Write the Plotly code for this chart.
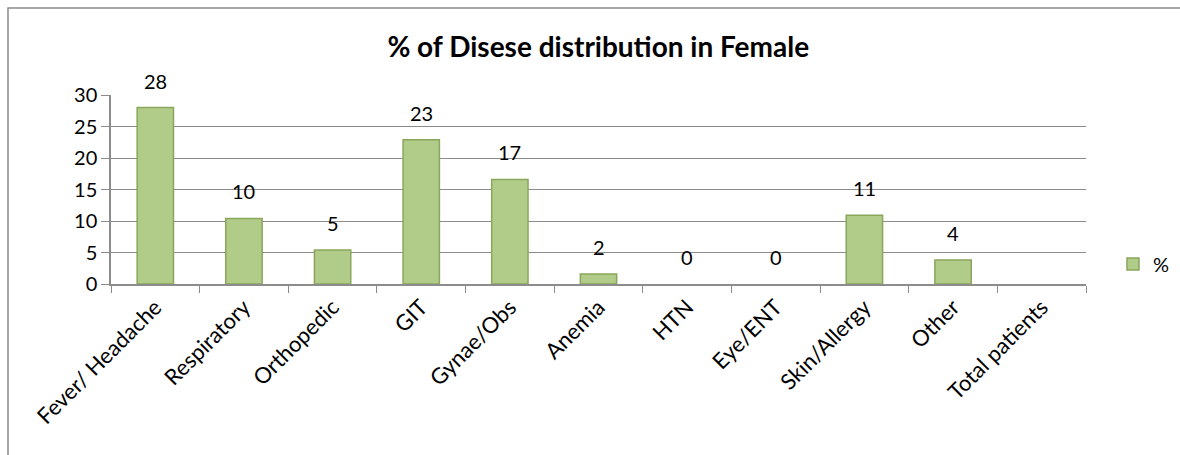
import plotly.graph_objects as go

categories = ["Fever/ Headache", "Respiratory", "Orthopedic", "GIT", "Gynae/Obs",
              "Anemia", "HTN", "Eye/ENT", "Skin/Allergy", "Other", "Total patients"]
values = [28.0, 10.4, 5.4, 22.9, 16.6, 1.6, 0, 0, 10.9, 3.8, None]
series_name = "%"
title_text = "% of Disese distribution in Female"
y_ticks = [0, 5, 10, 15, 20, 25, 30]

FONT = "Lato, Carlito, Calibri, sans-serif"
W, H = 1180, 455
L, R, T, B = 111, 94, 95, 171
pw, ph = W - L - R, H - T - B

def px_x(p):
    return (p - L) / pw

def px_y(p):
    return (H - B - p) / ph

fig = go.Figure()
fig.add_trace(go.Bar(
    x=categories, y=values, name=series_name, width=0.41,
    marker=dict(color="#B1CB88",
                line=dict(color="#8AA65C", width=[1.5 if v else 0 for v in values])),
    showlegend=True,
))

for c, v in zip(categories, values):
    if v is None:
        continue
    fig.add_annotation(x=c, y=v, text=f"{v:.0f}", showarrow=False,
                       yanchor="middle", yshift=27,
                       font=dict(family=FONT, size=20, color="#000"))

# chart border
fig.add_shape(type="rect", xref="paper", yref="paper",
              x0=px_x(8), x1=px_x(1184), y0=px_y(470), y1=px_y(8),
              line=dict(color="#8C8C8C", width=1.5), fillcolor="rgba(0,0,0,0)", layer="below")

fig.update_layout(
    width=W, height=H,
    margin=dict(l=L, r=R, t=T, b=B, autoexpand=False),
    paper_bgcolor="white", plot_bgcolor="white",
    title=dict(text=f"<b>{title_text}</b>", x=0.507, xanchor="center",
               y=1 - 47 / H, yanchor="middle",
               font=dict(family=FONT, size=28, color="#000")),
    font=dict(family=FONT, color="#000"),
    legend=dict(x=px_x(1113), y=px_y(264), xanchor="left", yanchor="middle",
                font=dict(family=FONT, size=20, color="#000"),
                bgcolor="rgba(0,0,0,0)", itemwidth=30),
    xaxis=dict(type="category", tickangle=-45, tickson="boundaries",
               ticks="outside", ticklen=7, tickcolor="#8C8C8C",
               showline=True, linecolor="#8C8C8C", linewidth=1.5,
               showgrid=False,
               tickfont=dict(family=FONT, size=22, color="#000")),
    yaxis=dict(range=[0, 30], tickvals=y_ticks, ticks="outside", ticklen=8,
               tickcolor="#8C8C8C", showline=True, linecolor="#8C8C8C", linewidth=1.5,
               showgrid=True, gridcolor="#8C8C8C", gridwidth=1.2, zeroline=False,
               tickfont=dict(family=FONT, size=20, color="#000")),
)

fig.write_html("out.html", config={"displayModeBar": False},
               post_script="document.body.style.margin='0';")
